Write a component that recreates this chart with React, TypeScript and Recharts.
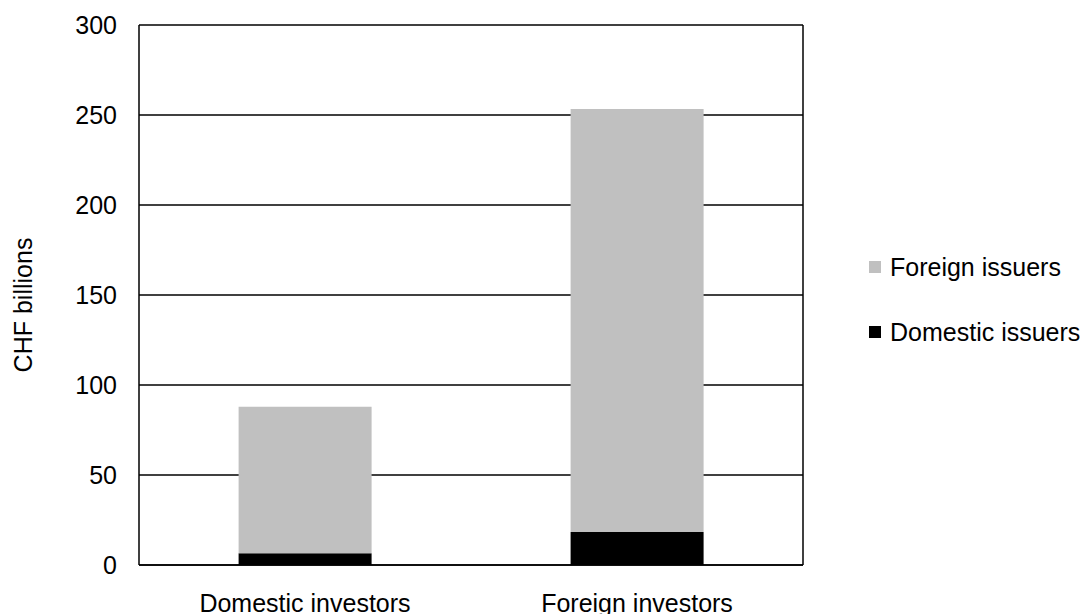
import React from 'react';
import { BarChart, Bar, XAxis, YAxis, CartesianGrid, Legend } from 'recharts';

const categories = ['Domestic investors', 'Foreign investors'];
const domesticIssuers = [6.5, 18.3];
const foreignIssuers = [81.4, 235.0];
const yTicks = [0, 50, 100, 150, 200, 250, 300];

const data = categories.map((c, i) => ({
  name: c,
  domestic: domesticIssuers[i],
  foreign: foreignIssuers[i],
}));

const FONT = '"Liberation Sans", Arial, sans-serif';

const legendItems = [
  { label: 'Foreign issuers', color: '#C0C0C0' },
  { label: 'Domestic issuers', color: '#000000' },
];

const LegendContent = () => (
  <div style={{ fontFamily: FONT, fontSize: 25, color: '#000' }}>
    {legendItems.map((it) => (
      <div key={it.label} style={{ display: 'flex', alignItems: 'center', height: 30, marginBottom: 35 }}>
        <span style={{ display: 'inline-block', width: 12, height: 12, background: it.color, marginRight: 9 }} />
        <span>{it.label}</span>
      </div>
    ))}
  </div>
);

const YLabel = (props: any) => {
  const vb = props.viewBox || {};
  const x = (vb.x || 0) + 23;
  const y = (vb.y || 0) + (vb.height || 0) / 2 + 10;
  return (
    <text
      x={x}
      y={y}
      transform={`rotate(-90, ${x}, ${y})`}
      textAnchor="middle"
      dominantBaseline="central"
      fontFamily={FONT}
      fontSize={25}
      fill="#000"
    >
      CHF billions
    </text>
  );
};

export default function App() {
  return (
    <div style={{ position: 'fixed', left: 0, top: 0, width: 1085, height: 614, background: '#fff' }}>
      <BarChart
        width={1085}
        height={614}
        data={data}
        margin={{ top: 25, right: 66, bottom: 0, left: 0 }}
        barCategoryGap="30%"
      >
        <CartesianGrid
          stroke="#000"
          strokeWidth={1.5}
          vertical={true}
          verticalCoordinatesGenerator={(p: any) => [p.offset.left + p.offset.width]}
        />
        <XAxis
          dataKey="name"
          height={49}
          tickLine={false}
          tickSize={0}
          tickMargin={29}
          axisLine={{ stroke: '#000', strokeWidth: 1.5 }}
          tick={{ fill: '#000', fontFamily: FONT, fontSize: 25 }}
          interval={0}
        />
        <YAxis
          width={139}
          domain={[0, 300]}
          ticks={yTicks}
          tickLine={false}
          tickSize={0}
          tickMargin={22}
          axisLine={{ stroke: '#000', strokeWidth: 1.5 }}
          tick={{ fill: '#000', fontFamily: FONT, fontSize: 25 }}
          label={<YLabel />}
        />
        <Legend
          layout="vertical"
          align="right"
          verticalAlign="middle"
          width={216}
          content={<LegendContent />}
          wrapperStyle={{ position: 'absolute', left: 869, top: 252, width: 216 }}
        />
        <Bar dataKey="domestic" name="Domestic issuers" stackId="a" fill="#000000" isAnimationActive={false} />
        <Bar dataKey="foreign" name="Foreign issuers" stackId="a" fill="#C0C0C0" isAnimationActive={false} />
      </BarChart>
    </div>
  );
}
